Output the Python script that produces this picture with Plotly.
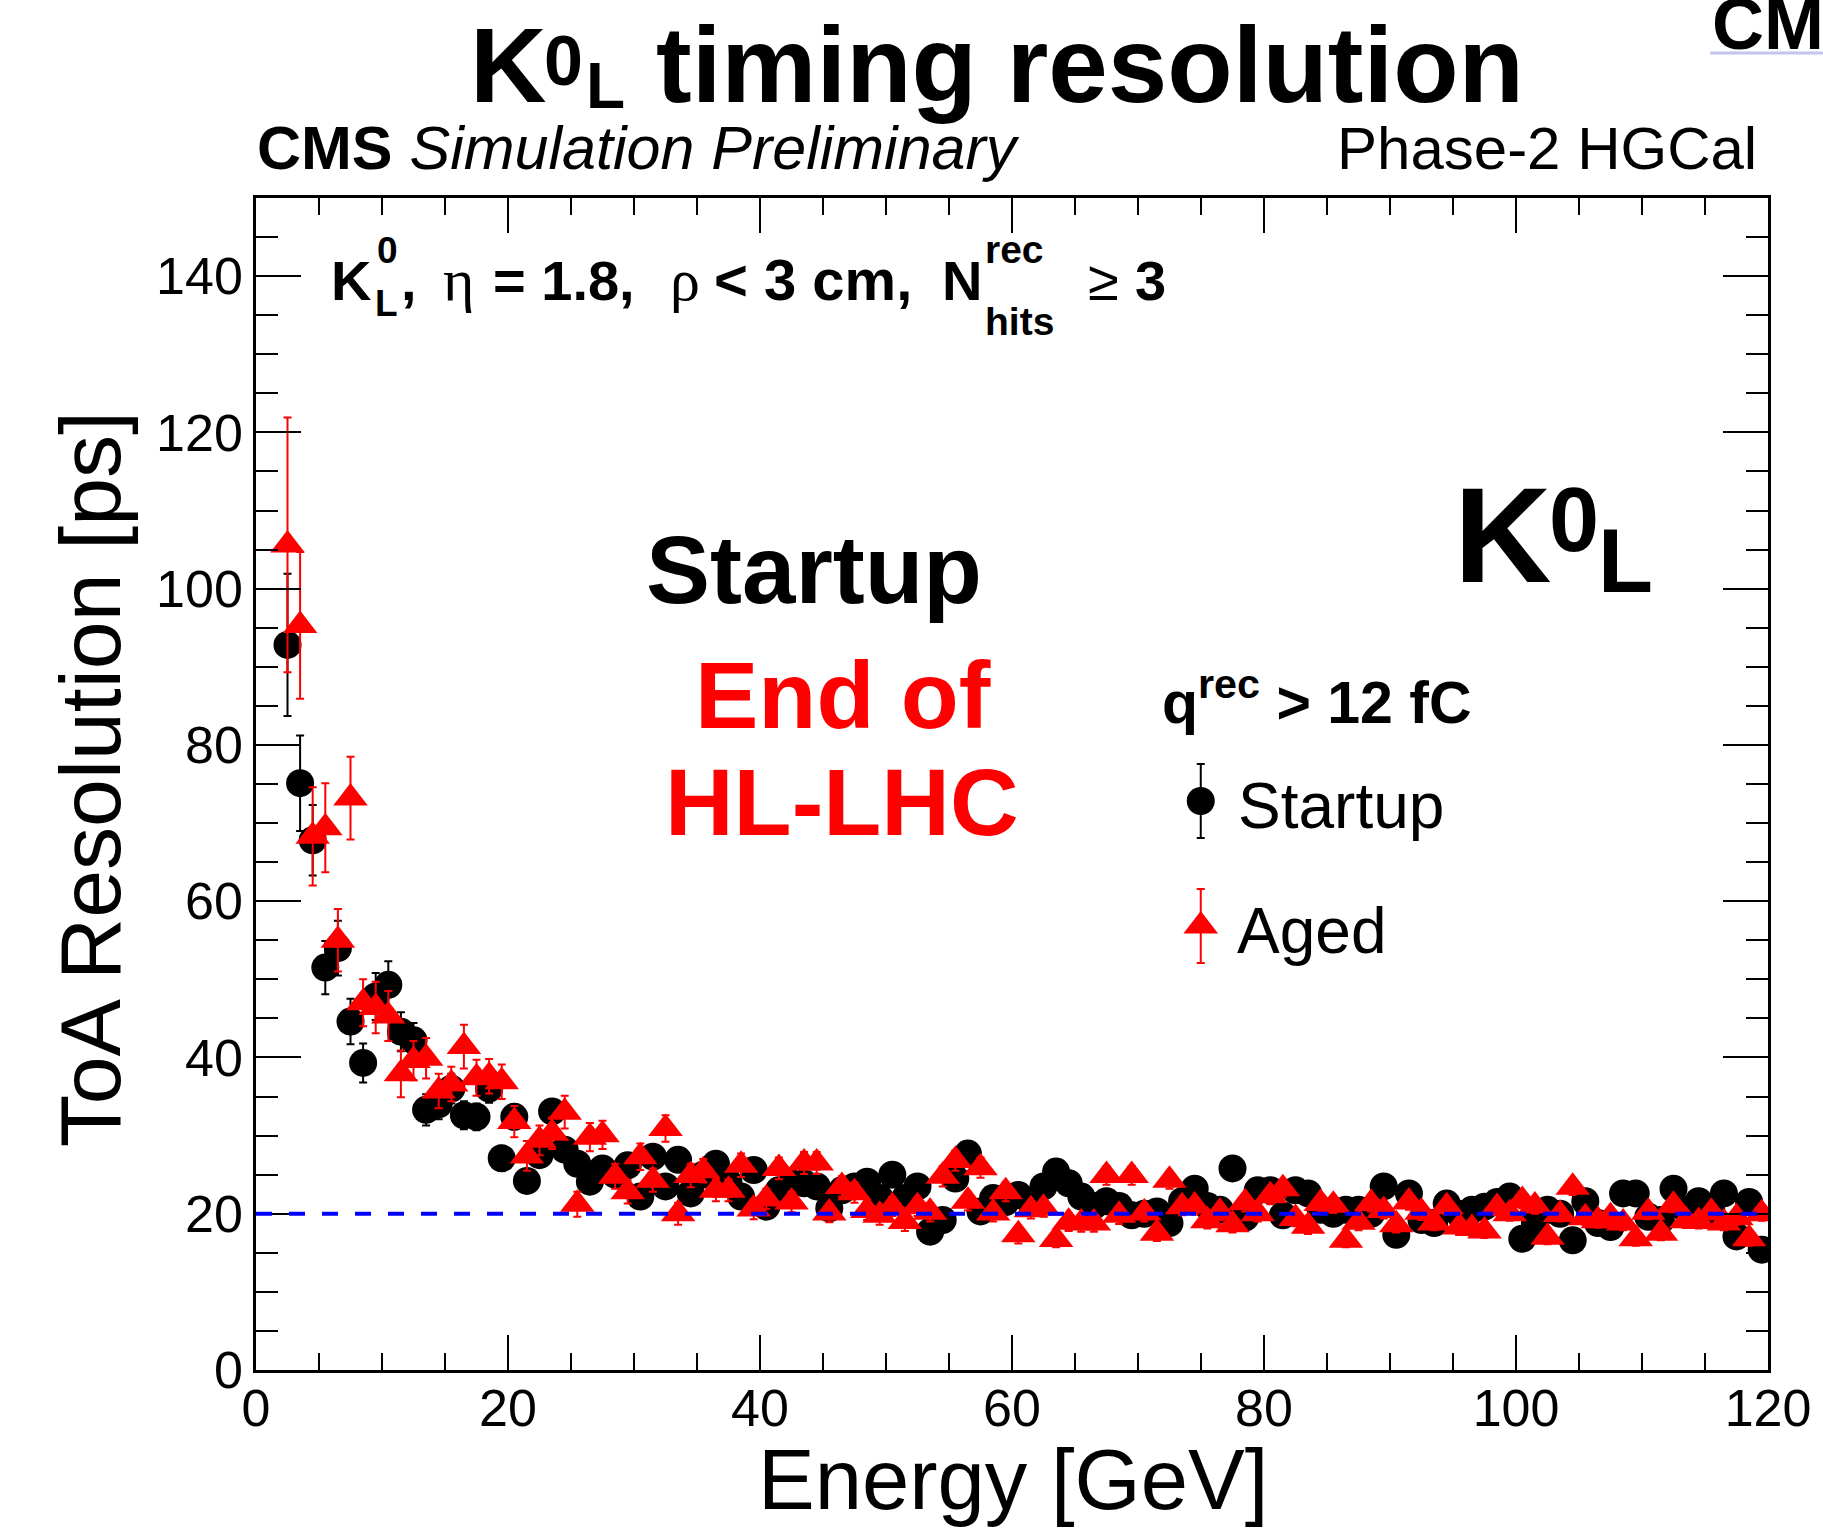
import plotly.graph_objects as go

# ---------------- data ----------------
energy = [
    2.5, 3.5, 4.5, 5.5, 6.5, 7.5, 8.5, 9.5, 10.5, 11.5,
    12.5, 13.5, 14.5, 15.5, 16.5, 17.5, 18.5, 19.5, 20.5, 21.5,
    22.5, 23.5, 24.5, 25.5, 26.5, 27.5, 28.5, 29.5, 30.5, 31.5,
    32.5, 33.5, 34.5, 35.5, 36.5, 37.5, 38.5, 39.5, 40.5, 41.5,
    42.5, 43.5, 44.5, 45.5, 46.5, 47.5, 48.5, 49.5, 50.5, 51.5,
    52.5, 53.5, 54.5, 55.5, 56.5, 57.5, 58.5, 59.5, 60.5, 61.5,
    62.5, 63.5, 64.5, 65.5, 66.5, 67.5, 68.5, 69.5, 70.5, 71.5,
    72.5, 73.5, 74.5, 75.5, 76.5, 77.5, 78.5, 79.5, 80.5, 81.5,
    82.5, 83.5, 84.5, 85.5, 86.5, 87.5, 88.5, 89.5, 90.5, 91.5,
    92.5, 93.5, 94.5, 95.5, 96.5, 97.5, 98.5, 99.5, 100.5, 101.5,
    102.5, 103.5, 104.5, 105.5, 106.5, 107.5, 108.5, 109.5, 110.5, 111.5,
    112.5, 113.5, 114.5, 115.5, 116.5, 117.5, 118.5, 119.5,
]

startup = [
    92.8, 75.1, 67.8, 51.5, 54.0, 44.6, 39.3, 47.8, 49.3, 43.3,
    42.2, 33.3, 34.0, 36.0, 32.6, 32.4, 36.0, 27.1, 32.4, 24.2,
    27.5, 33.1, 28.2, 26.4, 24.1, 25.8, 25.0, 26.2, 22.2, 27.3,
    23.5, 26.9, 22.6, 25.0, 26.4, 24.0, 22.2, 25.6, 20.9, 23.0,
    23.9, 23.9, 23.5, 20.7, 23.0, 23.5, 24.1, 22.0, 25.0, 22.0,
    23.5, 17.7, 19.2, 24.5, 27.7, 20.3, 22.0, 21.5, 22.4, 21.5,
    23.5, 25.4, 23.9, 22.2, 21.0, 21.6, 21.0, 19.8, 20.0, 20.3,
    18.8, 21.6, 23.2, 21.0, 20.5, 25.8, 19.5, 23.0, 23.0, 19.8,
    23.0, 22.6, 20.5, 20.0, 20.5, 20.5, 20.0, 23.5, 17.3, 22.6,
    19.2, 18.8, 21.3, 20.0, 20.5, 20.9, 21.5, 22.2, 16.8, 18.8,
    20.5, 20.0, 16.6, 21.6, 18.8, 18.3, 22.6, 22.6, 19.6, 19.2,
    23.2, 20.5, 21.6, 20.5, 22.6, 17.1, 21.5, 15.4,
]
startup_err = [
    9.1, 6.1, 4.5, 3.4, 3.5, 2.9, 2.5, 3.0, 3.0, 2.5,
    2.2, 2.0, 1.9, 1.9, 1.8, 1.7, 1.8, 1.6, 1.6, 1.5,
    1.5, 1.5, 1.4, 1.4, 1.3, 1.3, 1.3, 1.3, 1.2, 1.3,
    1.2, 1.2, 1.2, 1.2, 1.2, 1.1, 1.1, 1.2, 1.1, 1.1,
    1.1, 1.1, 1.1, 1.0, 1.1, 1.1, 1.1, 1.0, 1.1, 1.0,
    1.0, 0.9, 1.0, 1.0, 1.1, 1.0, 1.0, 1.0, 1.0, 1.0,
    1.0, 1.0, 1.0, 1.0, 1.0, 1.0, 1.0, 0.9, 0.9, 0.9,
    0.9, 0.9, 1.0, 0.9, 0.9, 1.0, 0.9, 0.9, 0.9, 0.9,
    0.9, 0.9, 0.9, 0.9, 0.9, 0.9, 0.9, 0.9, 0.8, 0.9,
    0.9, 0.8, 0.9, 0.9, 0.9, 0.9, 0.9, 0.9, 0.8, 0.8,
    0.9, 0.8, 0.8, 0.9, 0.8, 0.8, 0.9, 0.9, 0.8, 0.8,
    0.9, 0.8, 0.8, 0.8, 0.9, 0.8, 0.8, 0.8,
]

aged = [
    105.6, 95.3, 68.3, 69.4, 55.0, 73.2, 47.0, 46.4, 45.3, 37.9,
    39.6, 39.9, 35.7, 36.6, 41.4, 37.4, 37.6, 36.9, 31.8, 27.4,
    29.4, 30.3, 33.0, 21.2, 29.8, 30.1, 24.8, 22.8, 27.3, 24.3,
    30.9, 20.0, 24.9, 25.5, 23.0, 23.0, 26.2, 20.6, 21.9, 25.8,
    21.5, 26.5, 26.5, 20.1, 23.5, 22.7, 20.4, 19.8, 20.9, 19.0,
    20.9, 20.2, 24.8, 26.8, 21.6, 25.9, 20.1, 22.8, 17.3, 20.5,
    20.7, 16.7, 18.9, 18.8, 18.8, 24.9, 19.8, 24.9, 20.1, 17.5,
    24.3, 20.9, 21.0, 19.1, 20.2, 18.6, 21.4, 20.0, 22.3, 23.2,
    19.4, 18.4, 21.3, 21.1, 16.6, 18.9, 21.3, 20.4, 18.6, 21.5,
    20.2, 18.8, 20.9, 18.3, 18.1, 17.8, 20.8, 20.0, 21.7, 21.0,
    17.0, 19.9, 23.4, 19.5, 19.1, 19.6, 18.8, 16.8, 20.2, 17.5,
    21.1, 19.1, 19.0, 20.2, 18.8, 19.5, 16.8, 20.0,
]
aged_err = [
    16.3, 9.4, 6.3, 5.7, 4.0, 5.3, 3.0, 3.3, 3.2, 3.0,
    2.5, 2.6, 2.2, 2.2, 2.8, 2.3, 2.2, 2.2, 2.0, 1.9,
    1.9, 2.0, 2.1, 1.6, 1.8, 1.8, 1.6, 1.5, 1.7, 1.5,
    1.7, 1.4, 1.5, 1.5, 1.4, 1.4, 1.5, 1.3, 1.3, 1.4,
    1.3, 1.4, 1.4, 1.2, 1.3, 1.3, 1.2, 1.2, 1.2, 1.2,
    1.2, 1.2, 1.3, 1.3, 1.2, 1.3, 1.1, 1.2, 1.1, 1.1,
    1.1, 1.0, 1.1, 1.1, 1.1, 1.2, 1.1, 1.2, 1.1, 1.0,
    1.1, 1.1, 1.1, 1.0, 1.0, 1.0, 1.1, 1.0, 1.1, 1.1,
    1.0, 1.0, 1.0, 1.0, 0.9, 1.0, 1.0, 1.0, 1.0, 1.0,
    1.0, 0.9, 1.0, 0.9, 0.9, 0.9, 1.0, 0.9, 1.0, 1.0,
    0.9, 0.9, 1.0, 0.9, 0.9, 0.9, 0.9, 0.9, 0.9, 0.9,
    0.9, 0.9, 0.9, 0.9, 0.9, 0.9, 0.9, 0.9,
]

reference_level = 20
x_ticks = [0, 20, 40, 60, 80, 100, 120]
y_ticks = [0, 20, 40, 60, 80, 100, 120, 140]

# ---------------- layout geometry ----------------
W, H = 1823, 1530
L, R, T, B = 256, 1770, 198, 1370
SANS = "Liberation Sans, Arial, Helvetica, sans-serif"
SERIF = "Liberation Serif, Times New Roman, serif"


def px(x):
    return (x - L) / (R - L)


def py(y):
    return (B - y) / (B - T)


def txt(s, x, base, size, anchor="left", color="black", family=SANS, shift=0.3465, angle=0):
    return dict(
        text=s, x=px(x), y=py(base - shift * size), xref="paper", yref="paper",
        xanchor=anchor, yanchor="middle", showarrow=False, borderpad=0,
        textangle=angle, font=dict(size=size, color=color, family=family),
    )


fig = go.Figure()

fig.add_trace(go.Scatter(
    x=energy, y=startup, mode="markers", name="Startup",
    marker=dict(symbol="circle", size=28, color="black"),
    error_y=dict(type="data", array=startup_err, color="black", thickness=2, width=4),
    showlegend=False,
))
fig.add_trace(go.Scatter(
    x=energy, y=aged, mode="markers", name="Aged",
    marker=dict(symbol="triangle-up", size=30, color="#ff0000"),
    error_y=dict(type="data", array=aged_err, color="#ff0000", thickness=2, width=4),
    showlegend=False,
))

# legend symbols (drawn in paper space on an overlay axis)
fig.add_trace(go.Scatter(
    x=[px(1202)], y=[py(801)], xaxis="x2", yaxis="y2", mode="markers",
    marker=dict(symbol="circle", size=28, color="black"),
    error_y=dict(type="constant", value=37 / (B - T), color="black", thickness=2, width=4),
    showlegend=False, cliponaxis=False, hoverinfo="skip",
))
fig.add_trace(go.Scatter(
    x=[px(1202)], y=[py(926)], xaxis="x2", yaxis="y2", mode="markers",
    marker=dict(symbol="triangle-up", size=30, color="#ff0000"),
    error_y=dict(type="constant", value=37 / (B - T), color="#ff0000", thickness=2, width=4),
    showlegend=False, cliponaxis=False, hoverinfo="skip",
))

fig.add_shape(type="line", xref="x", yref="y", x0=x_ticks[0], x1=x_ticks[-1],
              y0=reference_level, y1=reference_level, layer="above",
              line=dict(color="#0000ff", width=4, dash="16px,17px"))

# lavender bar under the cut-off corner label
fig.add_shape(type="line", xref="paper", yref="paper", x0=px(1712), x1=px(1830),
              y0=py(53), y1=py(53), line=dict(color="#c4c4ee", width=3))

axis_common = dict(
    showline=True, linecolor="black", linewidth=2.5, mirror="allticks",
    ticks="inside", tickcolor="black", tickwidth=2,
    showgrid=False, zeroline=False,
    tickfont=dict(family=SANS, size=52, color="black"),
)

fig.update_layout(
    width=W, height=H, autosize=False,
    margin=dict(l=L, r=W - R, t=T, b=H - B, pad=0),
    paper_bgcolor="white", plot_bgcolor="white",
    xaxis=dict(range=[0, 120], tickvals=x_ticks, ticklen=35,
               minor=dict(dtick=5, ticks="inside", ticklen=17, tickcolor="black", tickwidth=2),
               ticklabelstandoff=-9, **axis_common),
    yaxis=dict(range=[0, 150], tickvals=y_ticks, ticklen=45,
               minor=dict(dtick=5, ticks="inside", ticklen=22, tickcolor="black", tickwidth=2),
               ticklabelstandoff=0, **axis_common),
    xaxis2=dict(range=[0, 1], overlaying="x", visible=False, fixedrange=True),
    yaxis2=dict(range=[0, 1], overlaying="y", visible=False, fixedrange=True),
)

ann = [
    # title and header
    txt("<b>K</b>", 469, 102, 106),
    txt("<b>0</b>", 543, 85, 70),
    txt("<b>L</b>", 585, 108, 64),
    txt("<b>timing resolution</b>", 656, 102, 107),
    txt("<b>CMS</b> <i>Simulation Preliminary</i>", 256, 169, 61),
    txt("Phase-2 HGCal", 1760, 169, 60, anchor="right"),
    txt("<b>CMS</b>", 1713, 49, 72),
    # selection line inside the frame
    txt("<b>K</b>", 330, 300, 56),
    txt("<b>0</b>", 376, 263, 37),
    txt("<b>L</b>", 374, 316, 37),
    txt("<b>,</b>", 400, 300, 56),
    txt("η", 442, 300, 60, family=SERIF, shift=0.3375),
    txt("<b>= 1.8,</b>", 492, 300, 56),
    txt("ρ", 670, 300, 60, family=SERIF, shift=0.3375),
    txt("<b>&lt; 3 cm,</b>", 714, 300, 58),
    txt("<b>N</b>", 942, 300, 56),
    txt("<b>rec</b>", 985, 263, 39),
    txt("<b>hits</b>", 985, 335, 39),
    txt("≥", 1088, 300, 56),
    txt("<b>3</b>", 1135, 300, 56),
    # big labels
    txt("<b>Startup</b>", 815, 603, 96, anchor="center"),
    txt("<b>End of</b>", 844, 728, 95, anchor="center", color="#ff0000"),
    txt("<b>HL-LHC</b>", 843, 835, 95, anchor="center", color="#ff0000"),
    txt("<b>K</b>", 1455, 582, 135),
    txt("<b>0</b>", 1550, 551, 90),
    txt("<b>L</b>", 1599, 592, 90),
    # legend
    txt("<b>q<sup>rec</sup> &gt; 12 fC</b>", 1162, 723, 59, shift=0.419),
    txt("Startup", 1238, 828, 64),
    txt("Aged", 1237, 953, 64),
    # axis titles
    txt("Energy [GeV]", 1014, 1509, 85, anchor="center"),
    dict(text="ToA Resolution [ps]", x=px(90), y=py(779), xref="paper", yref="paper",
         xanchor="center", yanchor="middle", showarrow=False, borderpad=0, textangle=-90,
         font=dict(size=86, color="black", family=SANS)),
]
fig.update_layout(annotations=ann)

fig.write_html("out.html")
